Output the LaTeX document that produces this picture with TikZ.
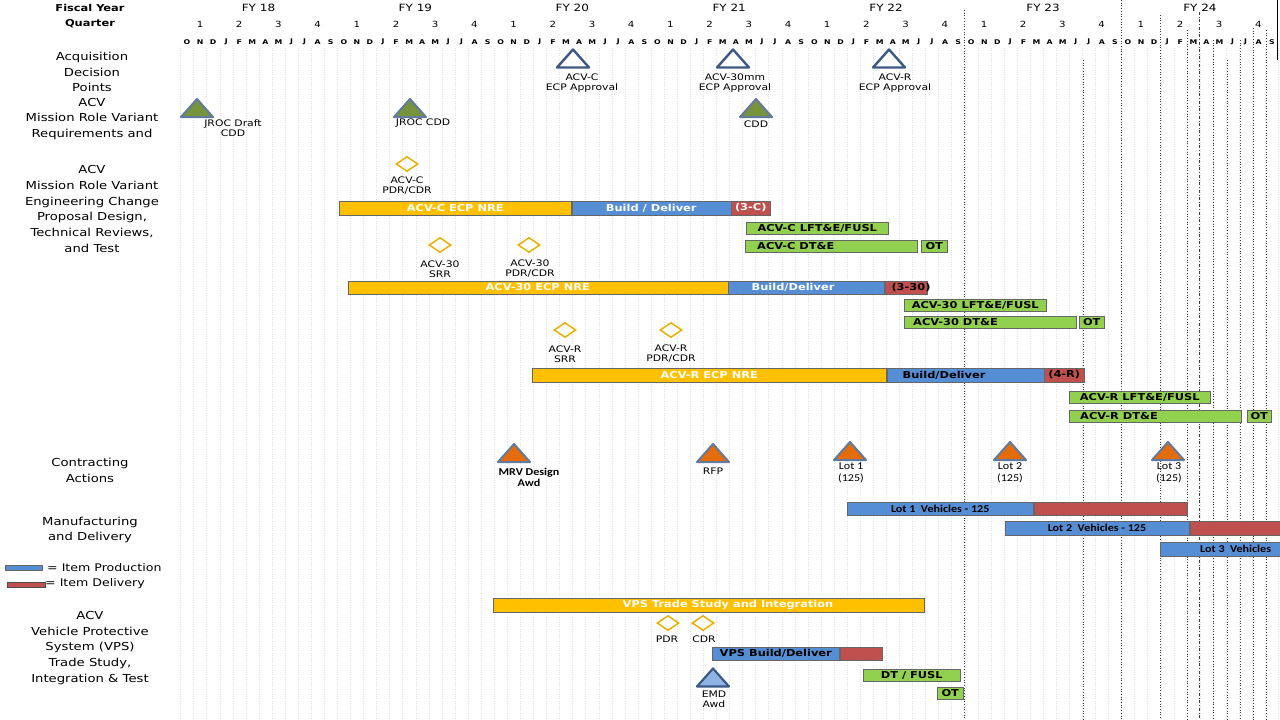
\documentclass[tikz,border=0pt]{standalone}
\usepackage{fontspec}
\setmainfont{DejaVu Sans}[FakeStretch=1.2]
\newfontfamily\calfont{Carlito}[FakeStretch=1.15]
\usepackage{tikz}
\usetikzlibrary{shapes.geometric}
\usepackage{xcolor}
\definecolor{barY}{RGB}{255,192,0}
\definecolor{barB}{RGB}{85,142,213}
\definecolor{barR}{RGB}{192,80,77}
\definecolor{barG}{RGB}{146,208,80}
\definecolor{triEdge}{RGB}{59,89,132}
\definecolor{triOlive}{RGB}{119,147,60}
\definecolor{triOrange}{RGB}{228,108,10}
\definecolor{triSky}{RGB}{142,180,227}
\definecolor{dmdEdge}{RGB}{235,175,0}

\begin{document}
\begin{tikzpicture}[x=1pt,y=-1pt,
  hdr/.style={font=\fontsize{10}{12}\selectfont},
  hdrb/.style={font=\bfseries\fontsize{9.5}{11}\selectfont},
  qtr/.style={font=\fontsize{8.5}{10}\selectfont},
  mon/.style={font=\bfseries\fontsize{6.5}{8}\selectfont},
  side/.style={align=center,font=\fontsize{11}{15.8}\selectfont},
  ms/.style={align=center,inner sep=0pt,font=\fontsize{9}{10}\selectfont},
  cal/.style={align=center,inner sep=0pt,font=\calfont\fontsize{10.5}{11.5}\selectfont},
  bar/.style={draw=black!60,line width=0.5pt,minimum height=13.5pt,inner sep=0pt,anchor=west,font=\bfseries\fontsize{9.5}{10}\selectfont},
  gbar/.style={bar,fill=barG,minimum height=12pt},
  bartxt/.style={inner sep=0pt,font=\bfseries\fontsize{9.5}{10}\selectfont},
  caltxt/.style={inner sep=0pt,font=\calfont\bfseries\fontsize{10.5}{11}\selectfont},
  legtxt/.style={inner sep=0pt,font=\fontsize{10.5}{12}\selectfont},
  dmd/.style={diamond,draw=dmdEdge,fill=white,line width=1.5pt,minimum width=22pt,minimum height=15pt,inner sep=0pt},
  opentri/.style={draw=triEdge,fill=white,line width=2.4pt,line join=round},
  olivetri/.style={draw=triEdge!80,fill=triOlive,line width=2pt,line join=round},
  orangetri/.style={draw=triEdge!80,fill=triOrange,line width=2pt,line join=round},
  skytri/.style={draw=triEdge,fill=triSky,line width=2.2pt,line join=round},
  tri/.pic={\path[pic actions] (-16,9) -- (0,-9) -- (16,9) -- cycle;}]
\useasboundingbox (0,0) rectangle (1280,720);

% grid
\foreach \k in {0,...,84}
  \draw[black!12,dotted,line width=0.4pt] ({180.5+13.07*\k},48) -- ({180.5+13.07*\k},720);
\foreach \gx/\gy in {964/10,1083/60,1121/0,1160/15,1187/30,1213/40,1227/60,1240/40,1253/28,1266/30}
  \draw[black!75,dotted,line width=0.7pt] (\gx,\gy) -- (\gx,720);
\draw[black!75,dash dot,line width=0.6pt] (1199,12) -- (1199,720);
\draw[black,line width=0.6pt] (1277,0) -- (1277,60);

% header
\node[hdrb] (fyLbl) at (90,8) {Fiscal Year};
\node[hdrb] (qLbl) at (90,24) {Quarter};
\foreach \i in {0,...,6}{
  \pgfmathtruncatemacro\fy{18+\i}
  \node[hdr] (fy\fy) at ({258.5+156.9*\i},8) {FY \fy};
}
\foreach \q in {0,...,27}{
  \pgfmathtruncatemacro\qn{mod(\q,4)+1}
  \node[qtr] (q\q) at ({200+39.2*\q},24) {\qn};
}
\foreach \yr in {0,...,6}
  \foreach \l [count=\k from 0] in {O,N,D,J,F,M,A,M,J,J,A,S}
    \node[mon] (m\yr-\k) at ({187+13.07*(12*\yr+\k)},42) {\l};

% row labels
\node[side] (acqLbl) at (92,72) {Acquisition\\Decision\\Points};
\node[side] (reqLbl) at (92,119) {ACV\\Mission Role Variant\\Requirements and};
\node[side] (ecpLbl) at (92,209) {ACV\\Mission Role Variant\\Engineering Change\\Proposal Design,\\Technical Reviews,\\and Test};
\node[side] (conLbl) at (90,470) {Contracting\\Actions};
\node[side] (mfgLbl) at (90,530) {Manufacturing\\and Delivery};
\node[side] (vpsLbl) at (90,648) {ACV\\Vehicle Protective\\System (VPS)\\Trade Study,\\Integration \& Test};

% legend
\node[draw=black!60,fill=barB,anchor=west,minimum width=37pt,minimum height=5pt,inner sep=0pt] (legProd) at (5,567.5) {};
\node[legtxt,anchor=west] (legProdTxt) at (47,568) {= Item Production};
\node[draw=black!70,fill=barR,anchor=west,minimum width=38pt,minimum height=5pt,inner sep=0pt] (legDel) at (7,584.5) {};
\node[legtxt,anchor=west] (legDelTxt) at (45,584) {= Item Delivery};

% acquisition decision points
\pic[opentri] at (573,58.5) {tri};
\node[ms] (cAppr) at (582,83.5) {ACV-C\\ECP Approval};
\pic[opentri] at (733,58.5) {tri};
\node[ms] (tAppr) at (735,83.5) {ACV-30mm\\ECP Approval};
\pic[opentri] at (889,58.5) {tri};
\node[ms] (rAppr) at (895,83.5) {ACV-R\\ECP Approval};

% requirements
\pic[olivetri] at (197,108) {tri};
\node[ms] (draftCdd) at (233,128.5) {JROC Draft\\CDD};
\pic[olivetri] at (410,108) {tri};
\node[ms] (jrocCdd) at (423,123.5) {JROC CDD};
\pic[olivetri] at (756,108) {tri};
\node[ms] (cdd) at (756,124) {CDD};

% ACV-C
\node[dmd] (cPdr) at (407,164) {};
\node[ms] (cPdrLbl) at (407,186) {ACV-C\\PDR/CDR};
\node[bar,fill=barY,text=white,minimum width=232pt] (cNre) at (339,208) {ACV-C ECP NRE};
\node[bar,fill=barB,text=white,minimum width=159pt] (cBuild) at (cNre.east) {Build / Deliver};
\node[bar,fill=barR,text=white,minimum width=39pt] (cDel) at (cBuild.east) {(3-C)};
\node[gbar,minimum width=142pt] (cLft) at (746,228) {ACV-C LFT\&E/FUSL};
\node[gbar,minimum width=172pt] (cDte) at (745,246.5) {};
\node[bartxt,anchor=west] (cDteTxt) at (757,246.5) {ACV-C DT\&E};
\node[gbar,minimum width=26pt] (cOt) at (921,246.5) {OT};

% ACV-30
\node[dmd] (tSrr) at (440,245) {};
\node[ms] (tSrrLbl) at (440,269) {ACV-30\\SRR};
\node[dmd] (tPdr) at (529,245) {};
\node[ms] (tPdrLbl) at (530,269) {ACV-30\\PDR/CDR};
\node[bar,fill=barY,text=white,minimum width=380pt] (tNre) at (347.5,287.5) {ACV-30 ECP NRE};
\node[bar,fill=barB,minimum width=156pt] (tBuild) at (tNre.east) {};
\node[bartxt,text=white] (tBuildTxt) at (793,287.5) {Build/Deliver};
\node[bar,fill=barR,minimum width=42pt] (tDel) at (tBuild.east) {};
\node[bartxt] (tDelTxt) at (911,287.5) {(3-30)};
\node[gbar,minimum width=142pt] (tLft) at (904,305) {ACV-30 LFT\&E/FUSL};
\node[gbar,minimum width=172pt] (tDte) at (903.5,322) {};
\node[bartxt,anchor=west] (tDteTxt) at (913,322) {ACV-30 DT\&E};
\node[gbar,minimum width=25pt] (tOt) at (1079,322) {OT};

% ACV-R
\node[dmd] (rSrr) at (565,330) {};
\node[ms] (rSrrLbl) at (565,354) {ACV-R\\SRR};
\node[dmd] (rPdr) at (671,330) {};
\node[ms] (rPdrLbl) at (671,354) {ACV-R\\PDR/CDR};
\node[bar,fill=barY,text=white,minimum width=354pt] (rNre) at (532,375) {ACV-R ECP NRE};
\node[bar,fill=barB,minimum width=157pt] (rBuild) at (rNre.east) {};
\node[bartxt] (rBuildTxt) at (944,375) {Build/Deliver};
\node[bar,fill=barR,minimum width=40pt] (rDel) at (rBuild.east) {(4-R)};
\node[gbar,minimum width=141pt] (rLft) at (1069,397.5) {ACV-R LFT\&E/FUSL};
\node[gbar,minimum width=172pt] (rDte) at (1069,416.5) {};
\node[bartxt,anchor=west] (rDteTxt) at (1080,416.5) {ACV-R DT\&E};
\node[gbar,minimum width=24pt] (rOt) at (1247,416.5) {OT};

% contracting actions
\pic[orangetri] at (514,453) {tri};
\node[cal,font=\calfont\bfseries\fontsize{10.5}{11.5}\selectfont] (mrvLbl) at (529,477.5) {MRV Design\\Awd};
\pic[orangetri] at (713,453) {tri};
\node[ms] (rfpLbl) at (713,471) {RFP};
\pic[orangetri] at (850,451) {tri};
\node[cal] (lot1Lbl) at (851,473) {Lot 1\\(125)};
\pic[orangetri] at (1010,451) {tri};
\node[cal] (lot2Lbl) at (1010,473) {Lot 2\\(125)};
\pic[orangetri] at (1168,451) {tri};
\node[cal] (lot3Lbl) at (1169,473) {Lot 3\\(125)};

% manufacturing and delivery
\node[bar,fill=barB,minimum width=186pt,font=\calfont\bfseries\fontsize{10.5}{11}\selectfont] (lot1Prod) at (847,508.5) {Lot 1\ \ Vehicles - 125};
\node[bar,fill=barR,minimum width=153pt] (lot1Del) at (lot1Prod.east) {};
\node[bar,fill=barB,minimum width=184.5pt,font=\calfont\bfseries\fontsize{10.5}{11}\selectfont] (lot2Prod) at (1004.5,528) {Lot 2\ \ Vehicles - 125};
\node[bar,fill=barR,minimum width=91pt] (lot2Del) at (lot2Prod.east) {};
\node[bar,fill=barB,minimum width=120pt] (lot3Prod) at (1160,549) {};
\node[caltxt,anchor=west] (lot3Txt) at (1200,549) {Lot 3\ \ Vehicles};

% VPS
\node[bar,fill=barY,minimum width=431pt] (vTrade) at (493,605) {};
\node[bartxt,text=white] (vTradeTxt) at (728,605) {VPS Trade Study and Integration};
\node[dmd] (vPdr) at (668,623) {};
\node[ms] (vPdrLbl) at (667,639) {PDR};
\node[dmd] (vCdr) at (703,623) {};
\node[ms] (vCdrLbl) at (704,639) {CDR};
\node[bar,fill=barB,minimum width=127pt] (vBuild) at (712,653.5) {VPS Build/Deliver};
\node[bar,fill=barR,minimum width=42pt] (vDel) at (vBuild.east) {};
\node[gbar,minimum width=97pt] (vDt) at (863,675) {DT / FUSL};
\node[gbar,minimum width=26pt] (vOt) at (937,693.5) {OT};
\pic[skytri] at (713,677.5) {tri};
\node[ms] (emdLbl) at (714,699.5) {EMD\\Awd};
\end{tikzpicture}
\end{document}
